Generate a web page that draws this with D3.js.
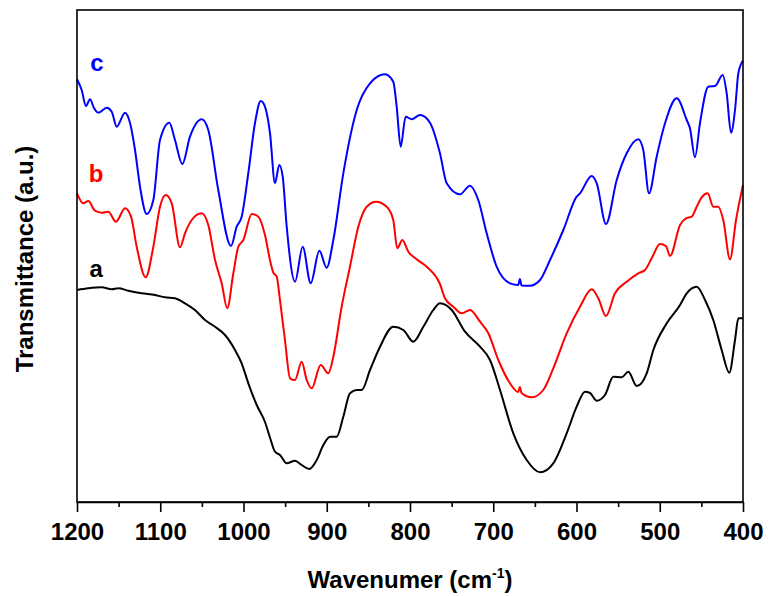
<!DOCTYPE html>
<html>
<head>
<meta charset="utf-8">
<script src="https://cdn.jsdelivr.net/npm/d3@7/dist/d3.min.js"></script>
<style>
  html, body { margin: 0; padding: 0; background: #fff; }
  svg { display: block; }
  text { font-family: "Liberation Sans", Arial, sans-serif; font-weight: bold; }
</style>
</head>
<body>
<svg id="chart" width="769" height="596"></svg>
<script>
// ---- data (wavenumber cm^-1, transmittance a.u.) ----
const seriesA = [
  [1200,212],[1186.4,213.7],[1170.3,214.7],[1158.3,212.7],[1150.4,213.7],[1138.4,211.3],
  [1122.3,208.7],[1106.3,207],[1094.3,204.7],[1082.3,203.7],[1070.3,198.7],[1058.3,192],
  [1046.2,182],[1034.2,175.3],[1022.2,167],[1010.2,152],[1002.2,138.7],[994.2,118.7],
  [984.1,97],[974.2,80],[968,64],[962.2,50.3],[956.2,47],[948.1,38.7],[938.1,41.3],
  [930.1,37],[920.9,33],[912.1,42],[904.1,57],[896.1,65.3],[888.1,65.3],[880.1,85.3],
  [872.1,108.7],[864,112],[858,112],[848,132],[836,155.3],[820.1,175.3],[808,172],
  [796,160.3],[784,175.3],[772,192],[764,198.7],[749.9,192],[733.9,170.3],[715.9,155.3],
  [703.9,142],[691.9,112],[675.9,68.7],[659.8,42],[643.8,29.7],[627.9,38.7],[611.8,68.7],
  [599.8,95.3],[589.8,110.3],[583.8,109],[575.7,101.3],[565.8,107],[555.8,125.3],
  [545.7,124.7],[537.7,130.3],[527.7,116],[515.7,128.7],[507.7,152],[491.6,178.7],
  [475.6,197],[467.6,208.7],[455.6,215.3],[445.6,202],[435.7,182],[425.6,152],
  [416.5,129.3],[409.6,162],[405.6,183.7],[400,183.7]
];
const seriesB = [
  [1200,308.7],[1192.4,298.7],[1186.4,301],[1178.4,291.3],[1170.3,289.3],[1162.4,290.3],
  [1153.2,280.3],[1142.3,293.7],[1135.1,285.3],[1128.3,255.3],[1117.5,224.7],[1108.3,255.3],
  [1100.3,295.3],[1093.5,307],[1086.2,298.7],[1076.3,254.7],[1070.3,268.7],[1062.2,282],
  [1050.2,288.7],[1042.3,277],[1034.2,242],[1026.2,218.7],[1019.5,193.7],[1012.2,228.7],
  [1006.2,255.3],[1000.2,262],[990.1,288],[982.2,285.3],[974.2,267],[968.2,242],
  [964.2,229.3],[960.1,225.3],[956.2,202],[950.2,162],[944.1,123.7],[938.1,122],
  [930.1,140.3],[924.1,122],[918.1,113.7],[907.3,137],[898.1,128.7],[892.1,145.3],
  [882.1,195.3],[872.1,235.3],[862.1,275.3],[852,295.3],[840.8,300.3],[828,295.3],
  [820.1,282],[815.3,253.7],[809.2,262],[802,250.3],[792,242.7],[780,235.3],[764,218],
  [758,203.7],[748,195.3],[737.9,188.7],[727.9,192],[715.9,180.3],[705.9,168.7],
  [693.9,142],[679.9,118.7],[670,110],[668,115],[666,109],[653.8,104.7],[639.9,112],
  [627.9,133.7],[611.8,168.7],[595.8,195.3],[581.7,212.7],[573.8,203.7],[564.6,186],
  [553.8,208.7],[539.7,220.3],[525.8,228.7],[517.7,232],[509.7,243.7],[499.7,258],
  [492.5,256],[487.7,246],[475.6,277],[468.5,283.7],[461.6,285.3],[455.6,295.3],
  [449.6,304.7],[442.4,308.7],[435.7,295.3],[429.7,295.3],[423.7,282],[415.6,242.7],
  [408.4,282],[400,317]
];
const seriesC = [
  [1200,422.7],[1194.4,412],[1189.2,396],[1184.4,402.7],[1179.6,394],[1174.4,389.3],
  [1164.3,394.3],[1158.3,390.3],[1152.3,375.3],[1142.3,389.3],[1136.3,379],[1130.3,352],
  [1124.3,315.3],[1116.3,288],[1108.3,302],[1100.3,362],[1089.1,379.3],[1082.3,362],
  [1073.5,338],[1064.3,365.3],[1050.2,382.7],[1042.3,372],[1030.3,312],[1015,256],
  [1008.2,275.3],[1002.2,285.3],[994.2,329],[986.2,379],[979.3,401],[974.2,395.3],
  [968.2,369],[962.2,319],[957,337],[952.9,325.3],[948.1,275.3],[938.1,220.3],
  [928.9,255.3],[919.3,218.7],[908.9,251.3],[900.1,234.3],[892.1,262],[880.1,328.7],
  [864,392],[848,418.7],[830,427.7],[820.1,420.3],[816,395.3],[811.2,355.3],[805.2,385.3],
  [798,382.7],[788,387],[776,379.3],[764,348.7],[755.9,318.7],[740,307.7],[728,316.3],
  [718,302],[707.9,268.7],[695.9,235.3],[679.9,218.7],[670,217],[668,223],[666,216.5],
  [655.9,216.3],[643.8,222],[631.8,242],[615.8,272],[599.8,305.3],[595.8,308.7],
  [581.7,326],[575.7,318.7],[564.6,278],[551.7,322],[539.7,348.7],[525.8,362.7],
  [519.8,352],[512.9,308.7],[503.7,345.3],[493.7,378.7],[479.6,403.7],[467.6,382],
  [463.7,373.7],[457.7,344.7],[451.7,378.7],[441.7,415.3],[433.6,416],[424.4,427],
  [419.6,408.7],[414.4,369.3],[409.6,392],[405.6,428.7],[400,441.3]
];
const seriesNames = ["a", "b", "c"];
const seriesColors = ["#000000", "#ff0000", "#0000ff"];
const labelPos = [[1185, 225], [1186, 320], [1184, 431]]; // label anchor in data units
const majorTicks = [1200, 1100, 1000, 900, 800, 700, 600, 500, 400];
const minorTicks = [1150, 1050, 950, 850, 750, 650, 550, 450];
const xDomain = [1200, 400];
const yDomain = [0, 492];

// ---- layout ----
const margin = { left: 77, right: 26, top: 10, bottom: 94 };
const W = 769, H = 596;
const pw = W - margin.left - margin.right;
const ph = H - margin.top - margin.bottom;

const svg = d3.select("#chart");
const x = d3.scaleLinear().domain(xDomain).range([margin.left, margin.left + pw]);
const y = d3.scaleLinear().domain(yDomain).range([margin.top + ph, margin.top]);

const line = d3.line().x(d => x(d[0])).y(d => y(d[1])).curve(d3.curveMonotoneX);

const allSeries = [seriesA, seriesB, seriesC];
const g = svg.append("g");
allSeries.forEach((s, i) => {
  g.append("path").datum(s)
    .attr("fill", "none")
    .attr("stroke", seriesColors[i])
    .attr("stroke-width", 2)
    .attr("stroke-linejoin", "round")
    .attr("d", line);
  svg.append("text")
    .attr("x", x(labelPos[i][0]))
    .attr("y", y(labelPos[i][1]))
    .attr("fill", seriesColors[i])
    .attr("font-size", 24)
    .text(seriesNames[i]);
});

// frame
svg.append("rect")
  .attr("x", margin.left).attr("y", margin.top)
  .attr("width", pw).attr("height", ph)
  .attr("fill", "none").attr("stroke", "#000").attr("stroke-width", 1.6);

// axes
const axMajor = svg.append("g")
  .attr("transform", `translate(0,${margin.top + ph})`)
  .call(d3.axisBottom(x).tickValues(majorTicks).tickSize(10).tickSizeOuter(0).tickFormat(d3.format("d")));
axMajor.select(".domain").attr("stroke-width", 1.6);
axMajor.selectAll(".tick line").attr("stroke-width", 1.6);
axMajor.selectAll(".tick text")
  .attr("font-size", 24).attr("font-family", "'Liberation Sans', Arial, sans-serif")
  .attr("font-weight", "bold").attr("fill", "#000").attr("dy", "1.05em");

const axMinor = svg.append("g")
  .attr("transform", `translate(0,${margin.top + ph})`)
  .call(d3.axisBottom(x).tickValues(minorTicks).tickSize(5).tickSizeOuter(0).tickFormat(""));
axMinor.select(".domain").remove();
axMinor.selectAll(".tick line").attr("stroke-width", 1.6);

// titles
const xt = svg.append("text")
  .attr("x", margin.left + pw / 2).attr("y", 588)
  .attr("text-anchor", "middle").attr("font-size", 24).attr("fill", "#000");
xt.append("tspan").text("Wavenumer (cm");
xt.append("tspan").attr("font-size", 14).attr("dy", -10).text("-1");
xt.append("tspan").attr("dy", 10).text(")");

svg.append("text")
  .attr("transform", `translate(33,${margin.top + ph / 2 + 3}) rotate(-90)`)
  .attr("text-anchor", "middle").attr("font-size", 24).attr("fill", "#000")
  .text("Transmittance (a.u.)");
</script>
</body>
</html>
